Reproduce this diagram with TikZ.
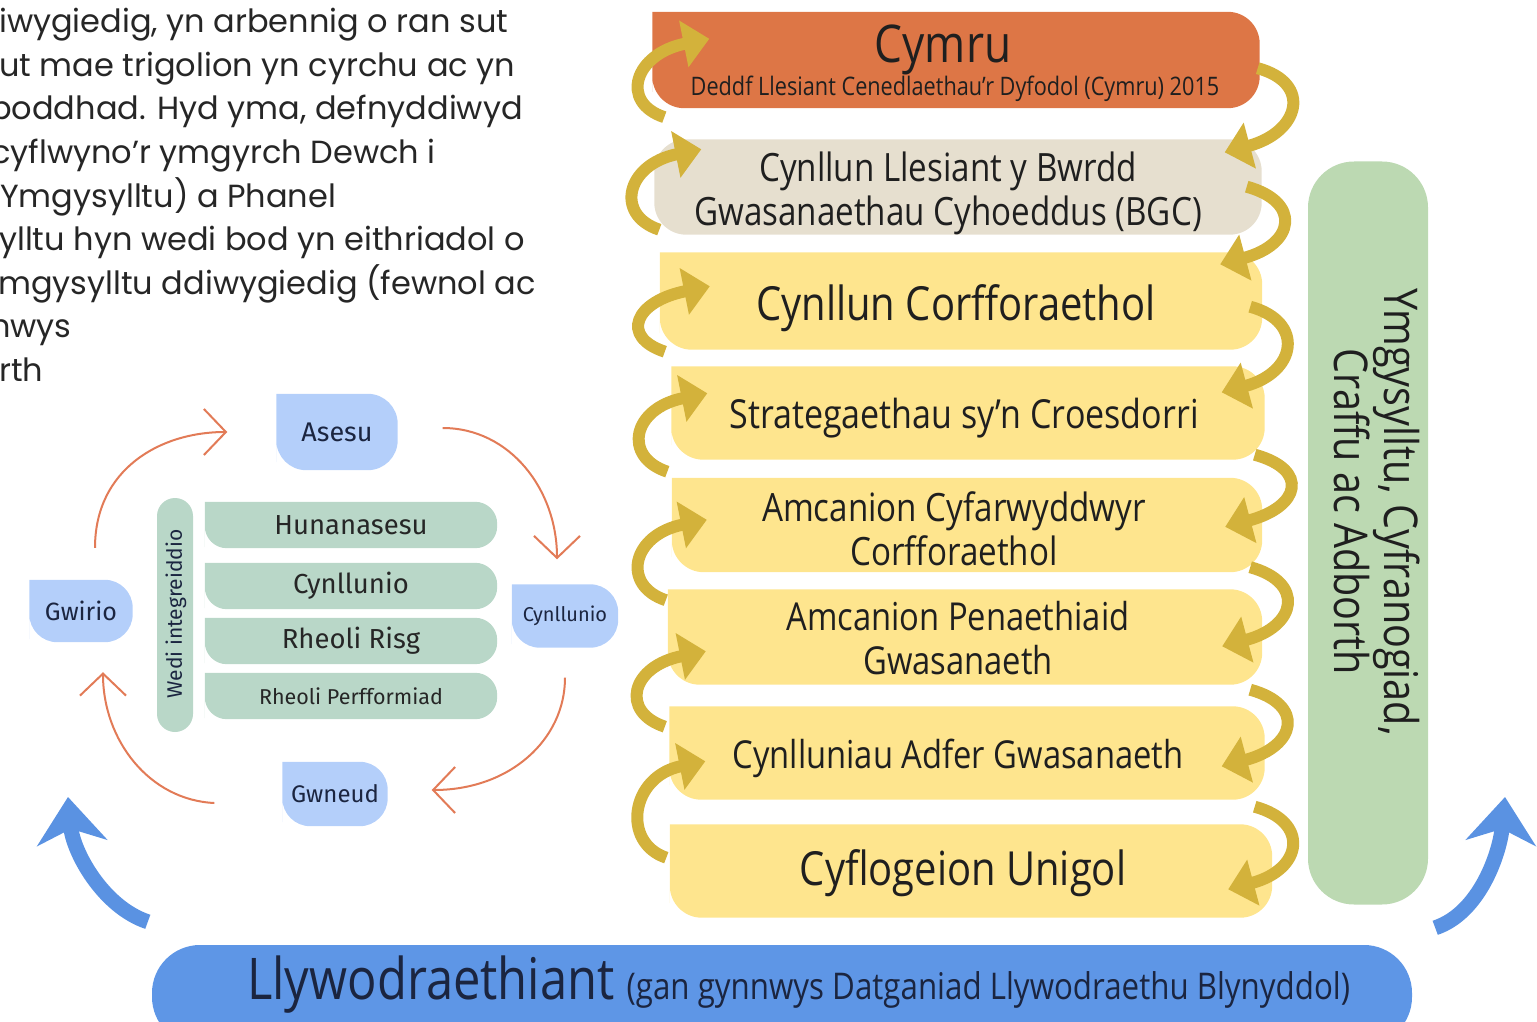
\documentclass[tikz,border=0pt]{standalone}
\usepackage{fontspec}
\setmainfont{Open Sans}
\newfontfamily\boxfont{Open Sans}[FakeStretch=0.85]
\newfontfamily\cyclefont{Fira Sans}
\newfontfamily\parafont{Poppins}
\usetikzlibrary{arrows.meta,backgrounds}
\newcommand{\fsz}[2]{\fontsize{#1}{#2}\selectfont}
% fill a node's box with its top left corner left sharp
\newcommand{\dropfill}[3]{\fill[#2] (#1.north west) -- (#1.north) [rounded corners=#3] -- (#1.north east) -- (#1.south east) -- (#1.south west) -- (#1.west) [sharp corners] -- cycle;}
\definecolor{orangebox}{HTML}{DD7646}
\definecolor{beigebox}{HTML}{E6DFCF}
\definecolor{yellowbox}{HTML}{FEE58E}
\definecolor{gold}{HTML}{D3B23B}
\definecolor{sidegreen}{HTML}{BCD9B2}
\definecolor{mint}{HTML}{B9D7C8}
\definecolor{lightblue}{HTML}{B4CFFA}
\definecolor{cycleorange}{HTML}{E27B57}
\definecolor{bluebar}{HTML}{5E96E6}
\definecolor{blueup}{HTML}{5A92E2}
\definecolor{navy}{HTML}{1B2540}
\tikzset{
    para/.style={anchor=base west, inner sep=0pt, font=\parafont\fsz{32}{38}, text=black!85},
    bigbox/.style={rectangle, inner sep=0pt},
    boxtext/.style={inner sep=0pt, align=center, text=black!88, font=\boxfont\fsz{40}{44}},
    cyclebox/.style={rectangle, inner sep=0pt, text=navy, font=\cyclefont\fsz{25}{30}},
    listbox/.style={rectangle, inner sep=0pt, minimum width=292pt, minimum height=46pt,
        text=black!85, font=\cyclefont\fsz{27.5}{30}},
    goldarrow/.style={draw=gold, line width=12pt, -{Triangle[length=26pt,width=46pt]}},
    cyclearrow/.style={draw=cycleorange, line width=2pt, -{Straight Barb[length=22pt,width=46pt]}},
    bluearrow/.style={draw=blueup, line width=15pt, -{Stealth[length=46pt,width=70pt,inset=14pt]}},
}
\begin{document}
\begin{tikzpicture}[x=1pt,y=-1pt]
\useasboundingbox (0,0) rectangle (1537,1022);

% paragraph cut at the left edge
\node[para] (p1) at (-1,33) {iwygiedig, yn arbennig o ran sut};
\node[para] (p2) at (-1,76.5) {ut mae trigolion yn cyrchu ac yn};
\node[para] (p3) at (-10,120) {boddhad. Hyd yma, defnyddiwyd};
\node[para] (p4) at (-9,163.5) {cyflwyno’r ymgyrch Dewch i};
\node[para] (p5) at (0,207) {Ymgysylltu) a Phanel};
\node[para] (p6) at (-1,250.5) {ylltu hyn wedi bod yn eithriadol o};
\node[para] (p7) at (-2,294) {mgysylltu ddiwygiedig (fewnol ac};
\node[para] (p8) at (-10,337.5) {nwys};
\node[para] (p9) at (-1,381) {rth};

% column of plans
\node[bigbox, minimum width=607pt, minimum height=96pt] (cymru) at (956,60) {};
\node[bigbox, minimum width=607pt, minimum height=95pt] (bgc) at (958,187) {};
\node[bigbox, minimum width=602pt, minimum height=97pt] (corff) at (961,301) {};
\node[bigbox, minimum width=593pt, minimum height=93pt] (strat) at (968,413) {};
\node[bigbox, minimum width=590pt, minimum height=94pt] (amcc) at (967,525) {};
\node[bigbox, minimum width=594pt, minimum height=95pt] (amcp) at (965,637) {};
\node[bigbox, minimum width=595pt, minimum height=93pt] (adfer) at (967,753) {};
\node[bigbox, minimum width=602pt, minimum height=93pt] (unigol) at (971,871) {};
\begin{scope}[on background layer]
\dropfill{cymru}{orangebox}{32pt}
\fill[beigebox, rounded corners=32pt] (bgc.north west) rectangle (bgc.south east);
\dropfill{corff}{yellowbox}{32pt}
\dropfill{strat}{yellowbox}{32pt}
\dropfill{amcc}{yellowbox}{32pt}
\dropfill{amcp}{yellowbox}{32pt}
\dropfill{adfer}{yellowbox}{32pt}
\dropfill{unigol}{yellowbox}{32pt}
\end{scope}

\node[boxtext, anchor=base, font=\boxfont\fsz{52}{56}] (cymrut) at (943,63) {Cymru};
\node[boxtext, anchor=base, font=\boxfont\fsz{25.5}{28}] (cymrus) at (955,96) {Deddf Llesiant Cenedlaethau’r Dyfodol (Cymru) 2015};
\node[boxtext, font=\boxfont\fsz{39}{44}] (bgct) at (948,193) {Cynllun Llesiant y Bwrdd\\Gwasanaethau Cyhoeddus (BGC)};
\node[boxtext, font=\boxfont\fsz{47}{50}] (corfft) at (956,308) {Cynllun Corfforaethol};
\node[boxtext] (stratt) at (964,418) {Strategaethau sy’n Croesdorri};
\node[boxtext, font=\boxfont\fsz{39}{44}] (amcct) at (954,528.5) {Amcanion Cyfarwyddwyr\\Corfforaethol};
\node[boxtext, font=\boxfont\fsz{38.5}{44}] (amcpt) at (958,638.5) {Amcanion Penaethiaid\\Gwasanaeth};
\node[boxtext, font=\boxfont\fsz{38.5}{44}] (adfert) at (958,758) {Cynlluniau Adfer Gwasanaeth};
\node[boxtext, font=\boxfont\fsz{47}{50}] (unigolt) at (963,873) {Cyflogeion Unigol};

% arrows down the right side
\draw[goldarrow] ([xshift=-2pt,yshift=40pt]cymru.south east) .. controls +(55,15) and +(75,-20) .. ([xshift=-37pt,yshift=-13pt]bgc.north east);
\draw[goldarrow] ([xshift=-15pt,yshift=48pt]bgc.south east) .. controls +(55,15) and +(75,-20) .. ([xshift=-42pt,yshift=-12pt]corff.north east);
\draw[goldarrow] ([xshift=-12pt,yshift=43pt]corff.south east) .. controls +(55,15) and +(75,-20) .. ([xshift=-43pt,yshift=-26pt]strat.north east);
\draw[goldarrow] ([xshift=-10pt,yshift=5pt]strat.south east) .. controls +(55,15) and +(75,-20) .. ([xshift=-37pt,yshift=-49pt]amcc.north east);
\draw[goldarrow] ([xshift=-12pt,yshift=5pt]amcc.south east) .. controls +(55,15) and +(75,-20) .. ([xshift=-40pt,yshift=-57pt]amcp.north east);
\draw[goldarrow] ([xshift=-12pt,yshift=-5pt]amcp.south east) .. controls +(55,15) and +(75,-20) .. ([xshift=-43pt,yshift=-60pt]adfer.north east);
\draw[goldarrow] ([xshift=-10pt,yshift=-7pt]adfer.south east) .. controls +(55,15) and +(75,-20) .. ([xshift=-44pt,yshift=-65pt]unigol.north east);

% arrows up the left side
\draw[goldarrow] ([xshift=12pt,yshift=-9pt]cymru.south west) .. controls +(-45,-15) and +(-75,15) .. ([xshift=57pt,yshift=-27pt]cymru.north west);
\draw[goldarrow] ([xshift=5pt,yshift=5pt]bgc.south west) .. controls +(-45,-15) and +(-75,15) .. ([xshift=47pt,yshift=-10pt]bgc.north west);
\draw[goldarrow] ([xshift=5pt,yshift=-2pt]corff.south west) .. controls +(-45,-15) and +(-75,15) .. ([xshift=50pt,yshift=-34pt]corff.north west);
\draw[goldarrow] ([xshift=-4pt,yshift=-12pt]strat.south west) .. controls +(-45,-15) and +(-75,15) .. ([xshift=36pt,yshift=-27pt]strat.north west);
\draw[goldarrow] ([xshift=-6pt,yshift=-28pt]amcc.south west) .. controls +(-45,-15) and +(-75,15) .. ([xshift=35pt,yshift=-42pt]amcc.north west);
\draw[goldarrow] ([xshift=-3pt,yshift=-42pt]amcp.south west) .. controls +(-45,-15) and +(-75,15) .. ([xshift=38pt,yshift=-62pt]amcp.north west);
\draw[goldarrow] ([xshift=-3pt,yshift=-58pt]adfer.south west) .. controls +(-45,-15) and +(-75,15) .. ([xshift=36pt,yshift=-55pt]adfer.north west);

% side bar
\node[rectangle, rounded corners=46pt, fill=sidegreen, minimum width=120pt, minimum height=743pt] (side) at (1368,533) {};
\node[rotate=-90, align=center, inner sep=0pt, font=\boxfont\fsz{46.5}{50}, text=black!88] (sidetxt) at (1377,512)
    {Ymgysylltu, Cyfranogiad,\\Craffu ac Adborth};

% governance bar
\node[rectangle, rounded corners=48pt, fill=bluebar, minimum width=1260pt, minimum height=100pt] (llyw) at (782,995) {};
\node[anchor=base west, inner sep=0pt, text=navy, font=\boxfont] (llywtxt) at (247,999)
    {{\fsz{57.5}{60}Llywodraethiant}\hspace{12pt}{\fsz{36.8}{40}(gan gynnwys Datganiad Llywodraethu Blynyddol)}};
\coordinate (upL) at (68,797);
\coordinate (upR) at (1505,797);
\draw[bluearrow] ([xshift=-4pt,yshift=23pt]llyw.north west) .. controls +(-45,-15) and +(5,55) .. (upL);
\draw[bluearrow] ([xshift=23pt,yshift=17pt]llyw.north east) .. controls +(45,-15) and +(-5,55) .. (upR);

% cycle
\node[cyclebox, minimum width=121pt, minimum height=76pt, font=\cyclefont\fsz{27}{30}] (asesu) at (337,432) {Asesu};
\node[cyclebox, minimum width=103pt, minimum height=62pt] (gwirio) at (81,611) {Gwirio};
\node[cyclebox, minimum width=106pt, minimum height=63pt, font=\cyclefont\fsz{20}{24}] (cynllb) at (565,616) {Cynllunio};
\node[cyclebox, minimum width=105pt, minimum height=64pt, font=\cyclefont\fsz{24}{28}] (gwneud) at (335,794) {Gwneud};

\node[rectangle, rounded corners=18pt, fill=mint, minimum width=36pt, minimum height=234pt] (wedi) at (175,615) {};
\node[rotate=90, inner sep=0pt, text=navy, font=\cyclefont\fsz{21}{24}] (weditxt) at (176,614) {Wedi integreiddio};
\node[listbox] (hunan) at (351,525) {Hunanasesu};
\node[listbox] (cynlluniog) at (351,586) {Cynllunio};
\node[listbox] (risg) at (351,641) {Rheoli Risg};
\node[listbox, font=\cyclefont\fsz{21.5}{24}] (perff) at (351,696) {Rheoli Perfformiad};
\begin{scope}[on background layer]
\dropfill{asesu}{lightblue}{30pt}
\dropfill{gwirio}{lightblue}{28pt}
\dropfill{cynllb}{lightblue}{28pt}
\dropfill{gwneud}{lightblue}{28pt}
\dropfill{hunan}{mint}{22pt}
\dropfill{cynlluniog}{mint}{22pt}
\dropfill{risg}{mint}{22pt}
\dropfill{perff}{mint}{22pt}
\end{scope}

\draw[cyclearrow] ([xshift=14pt,yshift=32pt]gwirio.north) .. controls +(0,-78) and +(-68,0) .. ([xshift=-49pt]asesu.west);
\draw[cyclearrow] ([xshift=45pt,yshift=4pt]asesu.east) .. controls +(67,0) and +(0,-70) .. ([xshift=-8pt,yshift=25pt]cynllb.north);
\draw[cyclearrow] ([yshift=-30pt]cynllb.south) .. controls +(0,62) and +(78,0) .. ([xshift=44pt,yshift=4pt]gwneud.east);
\draw[cyclearrow] ([xshift=-68pt,yshift=-9pt]gwneud.west) .. controls +(-65,-3) and +(0,68) .. ([xshift=22pt,yshift=-30pt]gwirio.south);
\end{tikzpicture}
\end{document}
